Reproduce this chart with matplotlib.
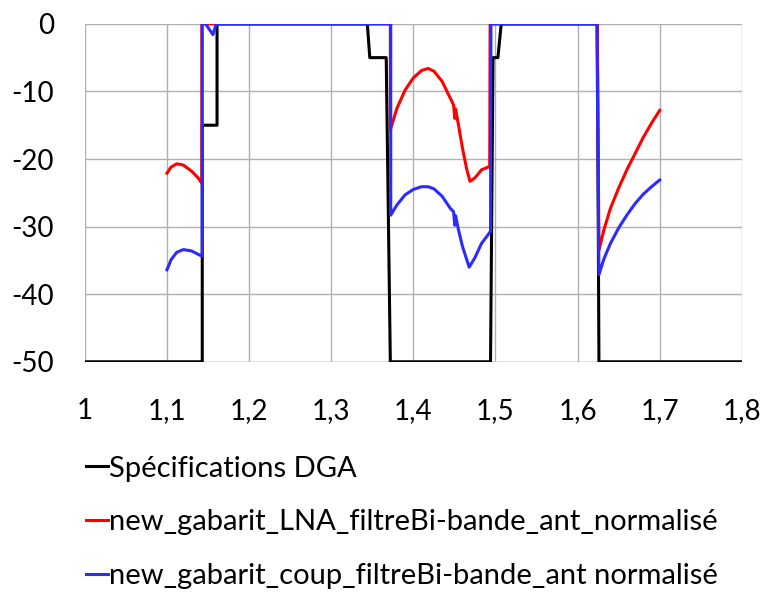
import matplotlib
matplotlib.use('Agg')
import matplotlib.pyplot as plt

# Spécifications DGA (gabarit)
spec_x = [1.0, 1.143, 1.143, 1.161, 1.161, 1.344, 1.347, 1.367, 1.372, 1.494,
          1.497, 1.503, 1.507, 1.624, 1.626, 1.8]
spec_y = [-50, -50, -15, -15, 0, 0, -5, -5, -50, -50,
          -5, -5, 0, 0, -50, -50]

# new_gabarit_LNA_filtreBi-bande_ant_normalisé
lna_x = [1.1, 1.105, 1.112, 1.12, 1.13, 1.138, 1.1425, 1.1425, 1.372,
         1.372, 1.38, 1.39, 1.40, 1.41, 1.418, 1.425, 1.435, 1.445, 1.449,
         1.4505, 1.4515, 1.455, 1.46, 1.465, 1.469, 1.475, 1.483, 1.493, 1.4935,
         1.624, 1.626, 1.632, 1.64, 1.65, 1.66, 1.67, 1.68, 1.69, 1.7]
lna_y = [-22.1, -21.2, -20.7, -20.9, -21.8, -22.8, -23.6, 0, 0,
         -15.7, -12.5, -9.8, -8.0, -6.9, -6.6, -7.0, -8.5, -11.0, -12.0,
         -14.0, -12.6, -15.0, -18.5, -21.5, -23.3, -22.8, -21.6, -21.1, 0,
         0, -33.5, -30.5, -27.3, -24.3, -21.6, -19.2, -16.8, -14.7, -12.8]

# new_gabarit_coup_filtreBi-bande_ant normalisé
coup_x = [1.1, 1.105, 1.112, 1.12, 1.13, 1.138, 1.143, 1.143, 1.147, 1.156,
          1.16, 1.3725, 1.3725, 1.38, 1.39, 1.40, 1.41, 1.418, 1.425, 1.435,
          1.445, 1.449, 1.4505, 1.4515, 1.455, 1.46, 1.468, 1.475, 1.483, 1.494,
          1.4945, 1.6235, 1.626, 1.632, 1.64, 1.65, 1.66, 1.67, 1.68, 1.69, 1.7]
coup_y = [-36.4, -34.9, -33.8, -33.4, -33.6, -34.1, -34.4, 0, 0, -1.6,
          0, 0, -28.3, -26.8, -25.3, -24.5, -24.1, -24.1, -24.4, -25.5,
          -27.3, -27.8, -29.8, -28.4, -30.5, -33.0, -36.0, -34.6, -32.5, -30.7,
          0, 0, -37.1, -34.8, -32.5, -30.2, -28.3, -26.6, -25.2, -24.1, -23.1]

x_ticks = [1.0, 1.1, 1.2, 1.3, 1.4, 1.5, 1.6, 1.7, 1.8]
x_labels = ['1', '1,1', '1,2', '1,3', '1,4', '1,5', '1,6', '1,7', '1,8']
y_ticks = [0, -10, -20, -30, -40, -50]
y_labels = ['0', '-10', '-20', '-30', '-40', '-50']

names = ['Spécifications DGA',
         'new_gabarit_LNA_filtreBi-bande_ant_normalisé',
         'new_gabarit_coup_filtreBi-bande_ant normalisé']

plt.rcParams['font.family'] = ['Lato', 'DejaVu Sans']

fig = plt.figure(figsize=(7.64, 5.96), dpi=100)
ax = fig.add_axes([0.111, 0.393, 0.86, 0.567])

l1, = ax.plot(spec_x, spec_y, color='black', lw=2.2, zorder=3)
l2, = ax.plot(lna_x, lna_y, color='#ff0000', lw=2.2, zorder=4)
l3, = ax.plot(coup_x, coup_y, color='#2b2bff', lw=2.2, zorder=5)

ax.set_xlim(1.0, 1.8)
ax.set_ylim(-50, 0)
ax.set_xticks(x_ticks)
ax.set_xticklabels(x_labels)
ax.set_yticks(y_ticks)
ax.set_yticklabels(y_labels)
ax.tick_params(length=0, labelsize=20)
ax.tick_params(axis='x', pad=26)
ax.tick_params(axis='y', pad=22)
ax.grid(True, color='#b0b0b0', lw=1)
for s in ax.spines.values():
    s.set_visible(False)
ax.axhline(-50, color='#b0b0b0', lw=1, zorder=1)

fig.legend([l1, l2, l3], names, loc='upper left',
           bbox_to_anchor=(0.097, 0.255), frameon=False, fontsize=21,
           handlelength=0.75, handletextpad=0.05, labelspacing=0.95,
           borderaxespad=0)

fig.savefig('out.png', dpi=100)
